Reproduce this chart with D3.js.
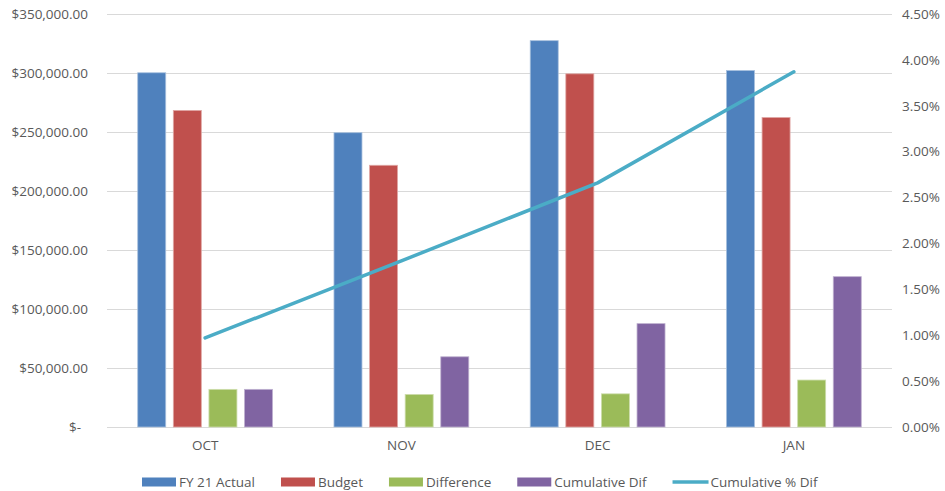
<!DOCTYPE html>
<html>
<head>
<meta charset="utf-8">
<script src="https://cdn.jsdelivr.net/npm/d3@7"></script>
<style>
  html, body { margin: 0; padding: 0; background: #fff; }
  svg text { font-family: "Open Sans", "Liberation Sans", sans-serif; fill: #595959; }
</style>
</head>
<body>
<svg id="chart" width="945" height="491"></svg>
<script>
// Monthly figures
const months = ["OCT", "NOV", "DEC", "JAN"];
const fy21Actual = [300200, 249400, 327400, 302100];
const budget = [268300, 221800, 299300, 262300];
const difference = [31900, 27600, 28100, 39800];
const cumulativeDif = [31900, 59500, 87600, 127400];
const cumulativePctDif = [0.0097, 0.0181, 0.0266, 0.0387];

const leftTicks = [0, 50000, 100000, 150000, 200000, 250000, 300000, 350000];
const rightTicks = [0, 0.005, 0.01, 0.015, 0.02, 0.025, 0.03, 0.035, 0.04, 0.045];

const barSeries = [
  { name: "FY 21 Actual", values: fy21Actual, color: "#4F81BD", edge: "#A7C0DE" },
  { name: "Budget", values: budget, color: "#C0504D", edge: "#E0A8A6" },
  { name: "Difference", values: difference, color: "#9BBB59", edge: "#CDDDAC" },
  { name: "Cumulative Dif", values: cumulativeDif, color: "#8064A2", edge: "#BFB1D0" }
];
const lineSeries = { name: "Cumulative % Dif", values: cumulativePctDif, color: "#4BACC6" };

const svg = d3.select("#chart");
const plot = { left: 107, right: 892, top: 14, bottom: 427 };

const x = d3.scaleBand().domain(months).range([plot.left, plot.right]).paddingInner(0).paddingOuter(0);
const yL = d3.scaleLinear().domain([0, 350000]).range([plot.bottom, plot.top]);
const yR = d3.scaleLinear().domain([0, 0.045]).range([plot.bottom, plot.top]);

// bar layout inside each month band
const barW = 28, barStep = 35.6;
const groupW = barStep * (barSeries.length - 1) + barW;

// gridlines
svg.append("g")
  .selectAll("line")
  .data(leftTicks)
  .join("line")
  .attr("x1", plot.left).attr("x2", plot.right)
  .attr("y1", d => Math.round(yL(d)) + 0.5).attr("y2", d => Math.round(yL(d)) + 0.5)
  .attr("stroke", "#D9D9D9").attr("stroke-width", 1);

// left axis
const fmtMoney = d3.format(",.2f");
const leftAxis = svg.append("g")
  .attr("transform", `translate(${plot.left - 19},0)`)
  .call(d3.axisLeft(yL).tickValues(leftTicks).tickSize(0).tickPadding(0)
    .tickFormat(d => d === 0 ? "$-" : "$" + fmtMoney(d)));
leftAxis.select(".domain").remove();
leftAxis.selectAll("text")
  .attr("font-size", 13.5)
  .attr("dx", d => d === 0 ? -7 : 0)
  .style("font-family", null);

// right axis
const rightAxis = svg.append("g")
  .attr("transform", `translate(${plot.right + 10},0)`)
  .call(d3.axisRight(yR).tickValues(rightTicks).tickSize(0).tickPadding(0)
    .tickFormat(d3.format(".2%")));
rightAxis.select(".domain").remove();
rightAxis.selectAll("text").attr("font-size", 13.5).style("font-family", null);

// category axis
const catAxis = svg.append("g")
  .attr("transform", `translate(0,${plot.bottom})`)
  .call(d3.axisBottom(x).tickSize(0).tickPadding(13));
catAxis.select(".domain").remove();
catAxis.selectAll("text").attr("font-size", 13.5).style("font-family", null);

// bars
barSeries.forEach((s, i) => {
  svg.append("g")
    .selectAll("rect")
    .data(s.values.map((v, j) => ({ month: months[j], v })))
    .join("rect")
    .attr("x", d => x(d.month) + x.bandwidth() / 2 - groupW / 2 + i * barStep)
    .attr("y", d => yL(d.v))
    .attr("width", barW)
    .attr("height", d => yL(0) - yL(d.v))
    .attr("fill", s.color)
    .attr("stroke", s.edge)
    .attr("stroke-width", 0.8);
});

// cumulative % line
const line = d3.line()
  .x((d, j) => x(months[j]) + x.bandwidth() / 2)
  .y(d => yR(d));
svg.append("path")
  .datum(lineSeries.values)
  .attr("d", line)
  .attr("fill", "none")
  .attr("stroke", lineSeries.color)
  .attr("stroke-width", 3.5)
  .attr("stroke-linecap", "round")
  .attr("stroke-linejoin", "round");

// legend
const legend = svg.append("g").attr("transform", "translate(142,482)");
let lx = 0;
[...barSeries, lineSeries].forEach((s, i) => {
  const g = legend.append("g").attr("transform", `translate(${lx},0)`);
  if (i < barSeries.length) {
    g.append("rect").attr("x", 0).attr("y", -4.5).attr("width", 34).attr("height", 9).attr("fill", s.color);
  } else {
    g.append("line").attr("x1", 0).attr("x2", 36).attr("y1", 0).attr("y2", 0)
      .attr("stroke", s.color).attr("stroke-width", 3.5);
  }
  const t = g.append("text")
    .attr("x", i < barSeries.length ? 37 : 38)
    .attr("y", 0)
    .attr("dy", "0.35em")
    .attr("font-size", 13.5)
    .text(s.name);
  lx += (i < barSeries.length ? 37 : 38) + t.node().getComputedTextLength() + 26;
});
</script>
</body>
</html>
